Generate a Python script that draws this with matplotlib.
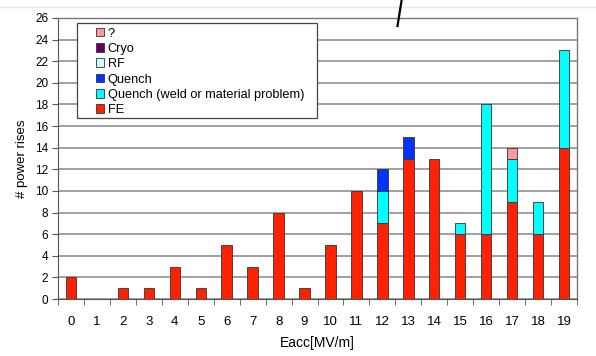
import numpy as np
import matplotlib.pyplot as plt
from matplotlib.patches import Rectangle
from matplotlib.lines import Line2D

plt.rcParams['font.family'] = ['Liberation Sans', 'DejaVu Sans']

# Power rises per accelerating gradient bin, split by cause
eacc = list(range(20))
fe = [2, 0, 1, 1, 3, 1, 5, 3, 8, 1, 5, 10, 7, 13, 13, 6, 6, 9, 6, 14]
quench_weld = [0, 0, 0, 0, 0, 0, 0, 0, 0, 0, 0, 0, 3, 0, 0, 1, 12, 4, 3, 9]
quench = [0, 0, 0, 0, 0, 0, 0, 0, 0, 0, 0, 0, 2, 2, 0, 0, 0, 0, 0, 0]
rf = [0] * 20
cryo = [0] * 20
unknown = [0, 0, 0, 0, 0, 0, 0, 0, 0, 0, 0, 0, 0, 0, 0, 0, 0, 1, 0, 0]

series = [
    ('FE', fe, '#ff2200'),
    ('Quench (weld or material problem)', quench_weld, '#00ffff'),
    ('Quench', quench, '#0033ff'),
    ('RF', rf, '#ccffff'),
    ('Cryo', cryo, '#660066'),
    ('?', unknown, '#ff9999'),
]

fig = plt.figure(figsize=(5.96, 3.56), dpi=100)
ax = fig.add_axes([58 / 596, 57 / 356, 519 / 596, 281 / 356])

x = np.arange(len(eacc))
bottom = np.zeros(len(eacc))
handles = []
for name, vals, col in series:
    vals = np.array(vals, dtype=float)
    mask = vals > 0
    ax.bar(x[mask], vals[mask], 0.4, bottom=bottom[mask], color=col,
           edgecolor='#333333', linewidth=0.6, zorder=3)
    bottom += vals
    handles.append(Rectangle((0, 0), 1, 1, facecolor=col, edgecolor='#333333', linewidth=0.6))

ax.set_xlim(-0.5, 19.5)
ax.set_ylim(0, 26)
ax.set_yticks(np.arange(0, 27, 2))
ax.set_xticks(x)
ax.set_xticklabels([str(v) for v in eacc], fontsize=9.5)
ax.set_xticks(np.arange(-0.5, 20, 1), minor=True)
ax.tick_params(axis='x', which='major', length=0, pad=12)
ax.tick_params(axis='x', which='minor', length=4, direction='out', color='#555555')
ax.tick_params(axis='y', length=4, direction='out', color='#555555', labelsize=8.5, pad=3)
ax.yaxis.grid(True, color='#a0a0a0', linewidth=1.4, zorder=0)
ax.set_axisbelow(True)
for side in ['left', 'bottom']:
    ax.spines[side].set_color('#555555')
for side in ['top', 'right']:
    ax.spines[side].set_color('#777777')
    ax.spines[side].set_linewidth(1.0)

ax.set_xlabel('Eacc[MV/m]', fontsize=10, labelpad=6)
ax.set_ylabel('# power rises', fontsize=9.5, labelpad=5)

# legend frame drawn separately so the padding can be set freely
box = Rectangle((77 / 596, 1 - 118 / 356), 240 / 596, 95 / 356, transform=fig.transFigure,
                facecolor='white', edgecolor='#444444', linewidth=0.9, zorder=5)
fig.patches.append(box)
leg = fig.legend(handles[::-1], [s[0] for s in series][::-1],
                 loc='upper left', bbox_to_anchor=(93 / 596, 1 - 25 / 356),
                 frameon=False, fontsize=9.2, handlelength=0.65, handleheight=0.65,
                 handletextpad=0.3, labelspacing=0.26, borderpad=0.2, borderaxespad=0)
leg.set_zorder(6)

# faint rule and pen stroke at the top of the page
fig.add_artist(Line2D([0, 1], [1 - 7 / 356, 1 - 7 / 356], color='#e6e6e6', linewidth=1))
fig.add_artist(Line2D([401.5 / 596, 397.5 / 596], [1 - 1 / 356, 1 - 26 / 356],
                      color='black', linewidth=1.6))

fig.savefig('out.png', dpi=100)
